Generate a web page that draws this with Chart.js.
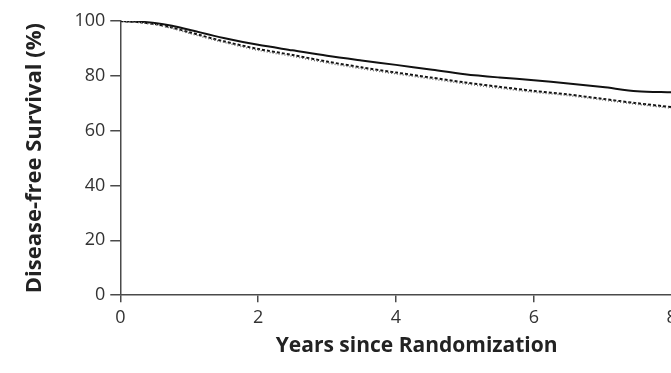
<!DOCTYPE html>
<html lang="en">
<head>
    <meta charset="UTF-8">
    <title>Disease-free Survival</title>
    <style>
        * { margin: 0; padding: 0; box-sizing: border-box; }
        body { background: #fff; width: 671px; height: 373px; overflow: hidden; }
        #wrap { width: 730px; height: 373px; }
    </style>
</head>
<body>
    <div id="wrap"><canvas id="dfs" width="730" height="373"></canvas></div>

    <script src="https://cdn.jsdelivr.net/npm/chart.js"></script>
    <script>
        // values
        const years = [0, 0.25, 0.5, 0.75, 1, 1.5, 2, 2.5, 3, 3.5, 4, 4.5, 5, 5.5, 6, 6.5, 7, 7.5, 8];
        const solidGroup = [100, 99.8, 99.3, 98.3, 96.8, 93.8, 91.3, 89.3, 87.3, 85.6, 84.0, 82.3, 80.6, 79.4, 78.4, 77.2, 75.9, 74.4, 74.0];
        const dashedGroup = [100, 99.6, 98.9, 97.6, 95.9, 92.6, 89.8, 87.6, 85.2, 83.1, 81.2, 79.4, 77.6, 76.0, 74.5, 73.2, 71.6, 70.0, 68.6];
        const dottedGroup = [100, 99.5, 98.7, 97.3, 95.5, 92.2, 89.3, 87.1, 84.7, 82.6, 80.7, 78.9, 77.1, 75.5, 74.0, 72.8, 71.2, 69.6, 68.2];
        const xTicks = [0, 2, 4, 6, 8];
        const yTicks = [0, 20, 40, 60, 80, 100];

        const axisColor = '#4a4a4a';
        const textColor = '#333';
        const fam = "'Open Sans', sans-serif";

        function pts(vals) {
            return years.map((x, i) => ({ x: x, y: vals[i] }));
        }

        new Chart(document.getElementById('dfs'), {
            type: 'line',
            data: {
                datasets: [
                    { data: pts(dottedGroup), borderColor: '#777', borderWidth: 1.5, borderDash: [1, 2], pointRadius: 0, tension: 0.3 },
                    { data: pts(dashedGroup), borderColor: '#111', borderWidth: 2, borderDash: [3, 2], pointRadius: 0, tension: 0.3 },
                    { data: pts(solidGroup), borderColor: '#111', borderWidth: 2, pointRadius: 0, tension: 0.3 }
                ]
            },
            options: {
                responsive: false,
                animation: false,
                layout: { padding: { left: 18, top: 21, right: 17, bottom: 10 } },
                plugins: { legend: { display: false }, tooltip: { enabled: false } },
                scales: {
                    x: {
                        type: 'linear',
                        min: 0,
                        max: 8.6,
                        afterBuildTicks: axis => { axis.ticks = xTicks.map(v => ({ value: v })); },
                        grid: { drawOnChartArea: false, drawTicks: true, tickLength: 7, color: axisColor, lineWidth: 1.5 },
                        border: { display: true, color: axisColor, width: 1.5 },
                        ticks: { color: textColor, font: { family: fam, size: 18 }, padding: 5, maxRotation: 0 },
                        title: { display: true, text: 'Years since Randomization', color: '#222', font: { family: fam, size: 21, weight: 'bold' }, padding: { top: 0 } }
                    },
                    y: {
                        min: 0,
                        max: 100,
                        afterBuildTicks: axis => { axis.ticks = yTicks.map(v => ({ value: v })); },
                        grid: { drawOnChartArea: false, drawTicks: true, tickLength: 10, color: axisColor, lineWidth: 1.5 },
                        border: { display: true, color: axisColor, width: 1.5 },
                        ticks: { color: textColor, font: { family: fam, size: 18 }, padding: 5 },
                        title: { display: true, text: 'Disease-free Survival (%)', color: '#222', font: { family: fam, size: 22, weight: 'bold' }, padding: { bottom: 21 } }
                    }
                }
            }
        });
    </script>
</body>
</html>
